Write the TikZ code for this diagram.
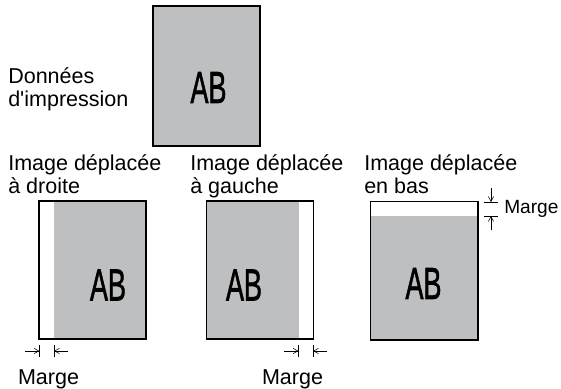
\documentclass[tikz,border=0pt]{standalone}
\usepackage{fontspec}
\setmainfont{Liberation Sans}
\usepackage{xcolor}
\usepackage{tikz}
\usetikzlibrary{arrows.meta,positioning}
\definecolor{printgray}{RGB}{190,191,193}
\tikzset{
 page/.style={
 rectangle,
 draw=black,
 line width=1.4pt,
 minimum width=2.675cm,
 minimum height=3.45cm,
 inner sep=0pt,
 outer sep=0pt
 },
 abtext/.style={
 inner sep=0pt,
 font=\fontsize{32}{32}\selectfont
 },
 caption/.style={
 align=left,
 inner sep=0pt,
 font=\fontsize{15.3}{16.4}\selectfont
 },
 dimline/.style={line width=0.4pt},
 dimarrow/.style={-{Straight Barb[length=1.2mm,width=1.3mm]}, line width=0.4pt}
}
\newfontfamily\abfont[FakeBold=1.6]{Liberation Sans}
\newcommand{\abmark}{\scalebox{0.6}[1]{\abfont AB}}

\begin{document}
\begin{tikzpicture}[x=0.025cm,y=-0.025cm]
	\useasboundingbox (0,0) rectangle (561,389);

	% print data
	\node[page, fill=printgray, minimum height=3.5cm] (source) at (206.5,76) {};
	\node[abtext] (sourceab) at (208.5,87.5) {\abmark};
	\node[caption, anchor=north west] (sourcelbl) at (8,67) {Données\\d\textquotesingle impression};

	% shifted right
	\fill[printgray] (54,201) rectangle (146,339);
	\node[page] (right) at (92.5,270) {};
	\node[abtext] (rightab) at (108,285) {\abmark};
	\node[caption, anchor=north west] (rightlbl) at (8,154) {Image déplacée\\à droite};

	% shifted left
	\fill[printgray] (206,201) rectangle (298.5,339);
	\node[page] (left) at (260,270) {};
	\node[abtext] (leftab) at (244,285) {\abmark};
	\node[caption, anchor=north west] (leftlbl) at (190,154) {Image déplacée\\à gauche};

	% shifted down
	\fill[printgray] (371,216) rectangle (477,339);
	\node[page] (down) at (424,270.5) {};
	\node[abtext] (downab) at (423.5,283.5) {\abmark};
	\node[caption, anchor=north west] (downlbl) at (364,154) {Image déplacée\\en bas};

	% margin, right
	\coordinate (r1) at (39.5,351);
	\coordinate (r2) at (54,351);
	\coordinate (r1o) at (25,351);
	\coordinate (r2o) at (68,351);
	\draw[dimline] (39.5,345) -- (39.5,357);
	\draw[dimline] (54,345) -- (54,357);
	\draw[dimarrow] (r1o) -- (r1);
	\draw[dimarrow] (r2o) -- (r2);
	\node[caption, anchor=base] (rightmarge) at (48.5,384) {Marge};

	% margin, left
	\coordinate (l1) at (298.5,351);
	\coordinate (l2) at (313,351);
	\coordinate (l1o) at (284,351);
	\coordinate (l2o) at (327,351);
	\draw[dimline] (298.5,345) -- (298.5,357);
	\draw[dimline] (313,345) -- (313,357);
	\draw[dimarrow] (l1o) -- (l1);
	\draw[dimarrow] (l2o) -- (l2);
	\node[caption, anchor=base] (leftmarge) at (292.5,384) {Marge};

	% margin, down
	\coordinate (d1) at (491,202);
	\coordinate (d2) at (491,216);
	\coordinate (d1o) at (491,188);
	\coordinate (d2o) at (491,230);
	\draw[dimline] (484,202) -- (498,202);
	\draw[dimline] (484,216) -- (498,216);
	\draw[dimarrow] (d1o) -- (d1);
	\draw[dimarrow] (d2o) -- (d2);
	\node[caption, anchor=base west, font=\fontsize{13.6}{16}\selectfont] (downmarge) at (504,213) {Marge};
\end{tikzpicture}
\end{document}
